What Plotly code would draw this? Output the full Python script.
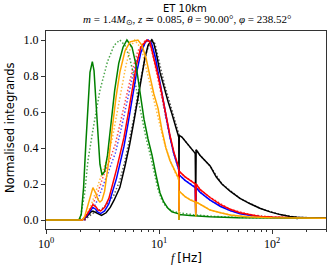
import plotly.graph_objects as go

green_f = [1.0, 1.95, 2.05, 2.15, 2.25, 2.35, 2.45, 2.57, 2.66, 2.77, 2.9, 3.0, 3.13, 3.3, 3.5, 3.75, 4.05, 4.4, 4.8, 5.2, 5.77, 6.26, 6.79, 7.36, 7.99, 8.67, 9.4, 10.2, 11.0, 12.0, 13.0, 14.7, 14.95, 15.0, 15.1, 18.8, 28.0, 50.0, 300.0]
green_v = [0.0, 0.0, 0.03, 0.18, 0.42, 0.65, 0.82, 0.88, 0.83, 0.65, 0.42, 0.31, 0.25, 0.27, 0.36, 0.55, 0.72, 0.87, 0.96, 1.0, 0.96, 0.86, 0.7, 0.56, 0.45, 0.36, 0.25, 0.15, 0.1, 0.065, 0.045, 0.035, 0.034, 0.0, 0.03, 0.025, 0.018, 0.012, 0.01]

green_dot_f = [1.0, 2.0, 2.2, 2.35, 2.6, 3.0, 3.5, 4.0, 4.5, 5.0, 5.5, 6.0, 6.5, 7.0, 7.7, 8.3, 9.0, 9.8, 10.6, 11.5, 13.0, 15.0, 20.0, 30.0, 60.0, 300.0]
green_dot_v = [0.0, 0.0, 0.15, 0.33, 0.5, 0.72, 0.88, 0.97, 1.0, 0.97, 0.9, 0.8, 0.68, 0.57, 0.45, 0.37, 0.27, 0.17, 0.11, 0.075, 0.05, 0.04, 0.03, 0.02, 0.013, 0.01]

orange_f = [1.0, 2.1, 2.2, 2.35, 2.5, 2.6, 2.75, 2.9, 3.0, 3.13, 3.3, 3.54, 3.84, 4.16, 4.5, 5.0, 5.54, 6.5, 7.07, 7.67, 8.3, 9.0, 9.8, 10.6, 11.5, 12.5, 13.9, 14.7, 14.95, 15.0, 15.1, 17.0, 19.0, 21.0, 21.15, 21.3, 25.0, 28.3, 35.0, 42.5, 60.0, 100.0, 300.0]
orange_v = [0.0, 0.0, 0.02, 0.08, 0.15, 0.18, 0.15, 0.11, 0.1, 0.11, 0.16, 0.3, 0.5, 0.68, 0.82, 0.94, 0.99, 1.0, 0.97, 0.9, 0.8, 0.7, 0.62, 0.5, 0.4, 0.33, 0.27, 0.24, 0.23, 0.0, 0.16, 0.13, 0.11, 0.1, 0.02, 0.1, 0.075, 0.055, 0.04, 0.028, 0.018, 0.012, 0.01]

orange_dot_f = [1.0, 2.1, 2.2, 2.5, 2.8, 3.13, 3.47, 3.85, 4.3, 4.7, 5.1, 5.6, 6.1, 7.0, 8.0, 9.0, 10.0, 11.0, 12.5, 14.0, 14.95, 15.1, 17.0, 21.0, 21.3, 28.3, 42.5, 60.0, 300.0]
orange_dot_v = [0.0, 0.0, 0.01, 0.08, 0.17, 0.26, 0.34, 0.45, 0.62, 0.74, 0.86, 0.96, 1.0, 0.95, 0.8, 0.66, 0.55, 0.44, 0.33, 0.26, 0.22, 0.16, 0.13, 0.1, 0.1, 0.055, 0.028, 0.018, 0.01]

red_f = [1.0, 2.1, 2.3, 2.5, 2.6, 2.75, 2.9, 3.05, 3.3, 3.6, 3.9, 4.2, 4.5, 4.9, 5.3, 5.77, 6.3, 6.9, 7.8, 8.3, 9.0, 9.8, 10.6, 11.5, 12.5, 13.5, 14.7, 14.95, 15.0, 15.1, 17.0, 19.0, 20.9, 21.1, 21.3, 23.0, 28.3, 35.0, 42.5, 52.0, 64.0, 78.0, 100.0, 150.0, 300.0]
red_v = [0.0, 0.0, 0.03, 0.07, 0.085, 0.075, 0.055, 0.05, 0.07, 0.12, 0.2, 0.28, 0.36, 0.46, 0.58, 0.72, 0.86, 0.96, 1.0, 0.99, 0.9, 0.8, 0.7, 0.58, 0.47, 0.38, 0.3, 0.29, 0.05, 0.27, 0.24, 0.22, 0.2, 0.04, 0.2, 0.17, 0.125, 0.085, 0.06, 0.04, 0.03, 0.02, 0.016, 0.012, 0.01]

red_dot_f = [1.0, 2.2, 2.45, 2.7, 2.9, 3.2, 3.6, 4.1, 4.6, 5.2, 5.8, 6.5, 7.6, 8.3, 9.0, 9.8, 10.6, 11.5, 12.5, 13.5, 14.9, 15.1, 17.0, 20.9, 21.3, 23.0, 28.3, 42.5, 64.0, 100.0, 300.0]
red_dot_v = [0.0, 0.0, 0.05, 0.11, 0.16, 0.24, 0.32, 0.42, 0.55, 0.7, 0.83, 0.94, 1.0, 0.98, 0.89, 0.79, 0.68, 0.57, 0.46, 0.37, 0.29, 0.27, 0.24, 0.2, 0.2, 0.17, 0.125, 0.06, 0.03, 0.016, 0.01]

blue_f = [1.0, 2.1, 2.3, 2.5, 2.6, 2.75, 2.9, 3.05, 3.3, 3.6, 3.9, 4.2, 4.5, 4.9, 5.3, 5.77, 6.3, 6.9, 7.6, 8.0, 8.6, 9.3, 10.0, 10.6, 11.5, 12.5, 13.5, 14.7, 14.95, 15.0, 15.1, 17.0, 19.0, 20.9, 21.1, 21.3, 23.0, 28.3, 35.0, 42.5, 52.0, 64.0, 78.0, 100.0, 300.0]
blue_v = [0.0, 0.0, 0.025, 0.06, 0.07, 0.06, 0.042, 0.036, 0.05, 0.09, 0.16, 0.23, 0.31, 0.41, 0.53, 0.67, 0.81, 0.93, 0.99, 1.0, 0.98, 0.9, 0.79, 0.69, 0.57, 0.46, 0.37, 0.29, 0.28, 0.05, 0.25, 0.22, 0.2, 0.18, 0.03, 0.18, 0.155, 0.11, 0.075, 0.052, 0.035, 0.026, 0.018, 0.014, 0.01]

blue_dot_f = [1.0, 2.2, 2.45, 2.7, 2.9, 3.2, 3.6, 4.1, 4.6, 5.2, 5.8, 6.5, 7.8, 8.6, 9.3, 10.0, 10.6, 11.5, 12.5, 13.5, 14.9, 15.1, 17.0, 20.9, 21.3, 23.0, 28.3, 42.5, 64.0, 100.0, 300.0]
blue_dot_v = [0.0, 0.0, 0.04, 0.08, 0.12, 0.19, 0.27, 0.37, 0.5, 0.65, 0.79, 0.91, 1.0, 0.98, 0.9, 0.79, 0.69, 0.57, 0.46, 0.37, 0.28, 0.25, 0.22, 0.18, 0.18, 0.155, 0.11, 0.052, 0.026, 0.014, 0.01]

black_f = [1.0, 2.1, 2.3, 2.5, 2.6, 2.75, 2.95, 3.1, 3.4, 3.7, 4.0, 4.5, 5.0, 5.5, 6.0, 6.5, 7.0, 7.5, 8.0, 8.6, 9.0, 9.5, 10.2, 11.0, 12.0, 13.0, 14.0, 14.7, 14.95, 15.0, 15.1, 16.0, 18.0, 20.9, 21.1, 21.3, 23.0, 28.3, 32.0, 36.0, 42.5, 52.0, 64.0, 78.0, 96.0, 118.0, 144.0, 165.0, 166.5, 168.0, 200.0, 300.0]
black_v = [0.0, 0.0, 0.02, 0.045, 0.05, 0.042, 0.028, 0.025, 0.04, 0.07, 0.11, 0.18, 0.3, 0.42, 0.55, 0.68, 0.8, 0.9, 0.97, 1.0, 0.98, 0.92, 0.82, 0.74, 0.66, 0.59, 0.52, 0.48, 0.46, 0.15, 0.47, 0.46, 0.42, 0.37, 0.1, 0.39, 0.36, 0.3, 0.24, 0.2, 0.16, 0.12, 0.09, 0.065, 0.045, 0.03, 0.02, 0.015, 0.005, 0.015, 0.012, 0.01]

black_dot_f = [1.0, 2.2, 2.5, 2.8, 3.1, 3.5, 4.0, 4.5, 5.0, 5.5, 6.0, 6.5, 7.0, 7.5, 8.0, 8.7, 9.2, 9.7, 10.4, 11.2, 12.2, 13.2, 14.2, 14.9, 15.1, 16.0, 18.0, 20.9, 21.3, 23.0, 28.3, 36.0, 52.0, 78.0, 118.0, 165.0, 300.0]
black_dot_v = [0.0, 0.0, 0.03, 0.05, 0.06, 0.09, 0.14, 0.22, 0.33, 0.45, 0.57, 0.7, 0.81, 0.9, 0.96, 1.0, 0.98, 0.92, 0.83, 0.75, 0.67, 0.6, 0.53, 0.48, 0.47, 0.46, 0.42, 0.37, 0.39, 0.36, 0.3, 0.2, 0.12, 0.065, 0.03, 0.015, 0.01]

x_tick_vals = [1, 10, 100]
x_tick_text = ["10<sup>0</sup>", "10<sup>1</sup>", "10<sup>2</sup>"]
y_tick_vals = [0.0, 0.2, 0.4, 0.6, 0.8, 1.0]

title_main = "ET 10km"
title_sub = ("<i>m</i> = 1.4<i>M</i><sub>⊙</sub>, <i>z</i> ≃ 0.085, "
             "<i>θ</i> = 90.00°, <i>φ</i> = 238.52°")
x_title = "<i>f</i> <span style='font-family:DejaVu Sans'>[Hz]</span>"
y_title = "Normalised integrands"

SERIF = "Liberation Serif, Times New Roman, serif"
SANS = "DejaVu Sans, sans-serif"
DOT = "1.5px,2px"

fig = go.Figure()

def add(fx, vy, color, dash=None, width=1.5):
    fig.add_trace(go.Scatter(x=fx, y=vy, mode="lines",
                             line=dict(color=color, width=width, dash=dash),
                             showlegend=False, hoverinfo="skip"))

# dotted variants
add(black_dot_f, black_dot_v, "rgba(0,0,0,0.65)", DOT)
add(blue_dot_f, blue_dot_v, "rgba(0,0,255,0.7)", DOT)
add(red_dot_f, red_dot_v, "rgba(255,0,0,0.7)", DOT)
add(orange_dot_f, orange_dot_v, "rgba(255,165,0,0.75)", DOT)
add(green_dot_f, green_dot_v, "rgba(0,128,0,0.7)", DOT)
# solid
add(black_f, black_v, "black")
add(blue_f, blue_v, "blue")
add(red_f, red_v, "red")
add(green_f, green_v, "green")
add(orange_f, orange_v, "orange")

minor_vals = [2, 3, 4, 5, 6, 7, 8, 9, 20, 30, 40, 50, 60, 70, 80, 90, 200, 300]

L, R, T, B = 46, 6, 31, 44
PW, PH = 332 - L - R, 273 - T - B

def py(pix):  # pixel row -> paper y
    return (273 - B - pix) / PH

def px(pix):  # pixel column -> paper x
    return (pix - L) / PW

fig.update_layout(
    width=332, height=273,
    margin=dict(l=L, r=R, t=T, b=B, autoexpand=False),
    paper_bgcolor="white", plot_bgcolor="white",
    font=dict(family=SERIF, size=12, color="black"),
    xaxis=dict(type="log", range=[0, 2.477], showgrid=False, zeroline=False,
               automargin=False,
               showline=True, linecolor="#333", linewidth=1, mirror=True,
               ticks="outside", ticklen=4, tickcolor="#333",
               tickvals=x_tick_vals, ticktext=x_tick_text,
               tickfont=dict(family=SERIF, size=12),
               minor=dict(tickvals=minor_vals, ticks="outside", ticklen=2, tickcolor="#333")),
    yaxis=dict(range=[-0.05, 1.05], showgrid=False, zeroline=False,
               automargin=False,
               showline=True, linecolor="#333", linewidth=1, mirror=True,
               ticks="outside", ticklen=4, tickcolor="#333",
               tickvals=y_tick_vals, tickformat=".1f",
               tickfont=dict(family=SERIF, size=12)),
    annotations=[
        dict(text=title_main, x=px(185), y=py(8), xref="paper", yref="paper",
             showarrow=False, xanchor="center", yanchor="middle",
             font=dict(family=SANS, size=10)),
        dict(text=title_sub, x=px(187), y=py(20), xref="paper", yref="paper",
             showarrow=False, xanchor="center", yanchor="middle",
             font=dict(family=SERIF, size=11)),
        dict(text=x_title, x=px(186), y=py(258), xref="paper", yref="paper",
             showarrow=False, xanchor="center", yanchor="middle",
             font=dict(family=SERIF, size=12)),
        dict(text=y_title, x=px(10), y=py(128), xref="paper", yref="paper",
             showarrow=False, xanchor="center", yanchor="middle", textangle=-90,
             font=dict(family=SANS, size=11.5)),
    ],
)

fig.write_html("out.html",
               config={"displayModeBar": False, "staticPlot": True},
               post_script="document.body.style.margin='0';"
                           "document.body.style.overflow='hidden';")
